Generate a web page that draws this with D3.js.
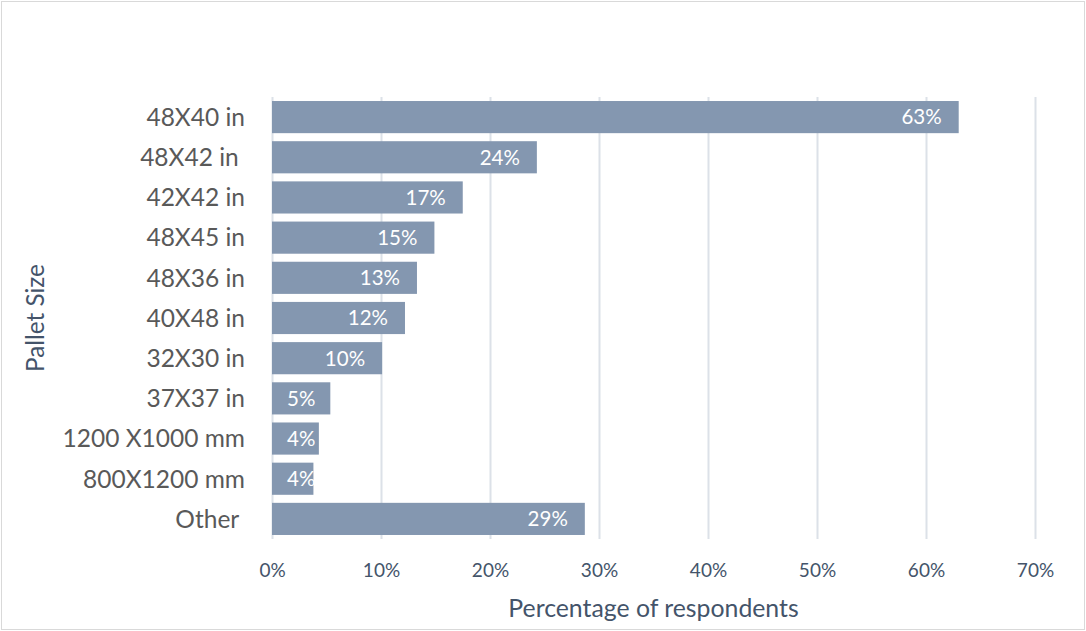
<!DOCTYPE html>
<html>
<head>
<meta charset="utf-8">
<script src="https://cdn.jsdelivr.net/npm/d3@7/dist/d3.min.js"></script>
<style>
  html, body { margin: 0; padding: 0; background: #fff; }
  svg { display: block; font-family: Lato, "Open Sans", sans-serif; }
  text { white-space: pre; }
</style>
</head>
<body>
<svg id="chart" width="1086" height="631"></svg>
<script>
const categories = ["48X40 in", "48X42 in ", "42X42 in", "48X45 in", "48X36 in", "40X48 in",
                    "32X30 in", "37X37 in", "1200 X1000 mm", "800X1200 mm", "Other "];
const values = [63.0, 24.3, 17.5, 14.9, 13.3, 12.2, 10.1, 5.35, 4.3, 3.8, 28.7];
const valueLabels = ["63%", "24%", "17%", "15%", "13%", "12%", "10%", "5%", "4%", "4%", "29%"];
const xTicks = [0, 10, 20, 30, 40, 50, 60, 70];
const xTitle = "Percentage of respondents";
const yTitle = "Pallet Size";

(function () {
const svg = d3.select("#chart");
const W = 1086, H = 631;
const pL = 272, pR = 1035, pT = 97, pB = 539;

svg.append("rect").attr("x", 1.5).attr("y", 1.5).attr("width", W - 3).attr("height", H - 3)
  .attr("fill", "#fff").attr("stroke", "#D9D9D9").attr("stroke-width", 1);

const x = d3.scaleLinear().domain([0, 70]).range([pL, pR]);
const y = d3.scaleBand().domain(categories).range([pT, pB]).paddingInner(0.2).paddingOuter(0.1);

// gridlines
const gx = svg.append("g").attr("transform", `translate(0,${pB})`)
  .call(d3.axisBottom(x).tickValues(xTicks).tickSize(-(pB - pT)).tickFormat(d => d + "%").tickPadding(25));
gx.select(".domain").remove();
gx.selectAll(".tick line").attr("stroke", "#DCE1E8").attr("stroke-width", 2);
gx.selectAll(".tick text").attr("fill", "#44546A").attr("font-size", 19).attr("font-family", "Lato");

// bars
svg.append("g").selectAll("rect").data(categories).join("rect")
  .attr("x", x(0))
  .attr("y", d => y(d))
  .attr("width", (d, i) => x(values[i]) - x(0))
  .attr("height", y.bandwidth())
  .attr("fill", "#8497B0");

// value labels
const lbl = svg.append("g").selectAll("text").data(categories).join("text")
  .attr("y", d => y(d) + y.bandwidth() / 2)
  .attr("dy", "0.36em")
  .attr("fill", "#fff")
  .attr("font-size", 20.5)
  .text((d, i) => valueLabels[i]);
lbl.each(function(d, i) {
  const w = this.getComputedTextLength();
  const xe = x(values[i]) - 17 - w;
  d3.select(this).attr("x", Math.max(x(0) + 15, xe));
});

// category labels
const gy = svg.append("g").attr("transform", `translate(${pL},0)`)
  .call(d3.axisLeft(y).tickSize(0).tickPadding(27));
gy.select(".domain").remove();
gy.selectAll(".tick text").attr("fill", "#595959").attr("font-size", 24.5).attr("font-family", "Lato")
  .attr("dy", "0.36em");

// axis titles
svg.append("text").attr("x", (pL + pR) / 2).attr("y", 617)
  .attr("text-anchor", "middle").attr("fill", "#44546A").attr("font-size", 24.8)
  .text(xTitle);
svg.append("text").attr("transform", `translate(44,${(pT + pB) / 2}) rotate(-90)`)
  .attr("text-anchor", "middle").attr("fill", "#44546A").attr("font-size", 24.3)
  .text(yTitle);
})();
</script>
</body>
</html>
